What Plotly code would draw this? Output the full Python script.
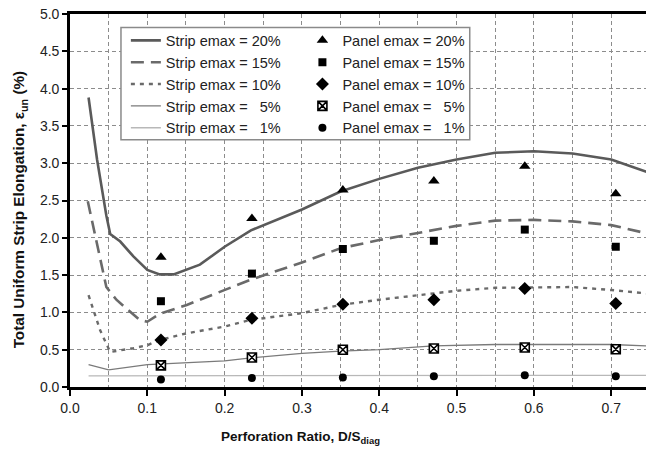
import plotly.graph_objects as go

# ---- data ----
x_s20 = [0.024, 0.035, 0.047, 0.052, 0.065, 0.082, 0.1, 0.116, 0.134, 0.151, 0.168, 0.2, 0.234,
         0.3, 0.35, 0.4, 0.45, 0.5, 0.55, 0.6, 0.65, 0.7, 0.75]
y_s20 = [3.88, 3.05, 2.3, 2.05, 1.95, 1.75, 1.57, 1.51, 1.51, 1.58, 1.64, 1.88, 2.1,
         2.38, 2.62, 2.79, 2.94, 3.05, 3.14, 3.16, 3.13, 3.05, 2.87]

x_s15 = [0.023, 0.035, 0.047, 0.06, 0.075, 0.09, 0.1, 0.116, 0.151, 0.2, 0.234, 0.3, 0.35,
         0.4, 0.45, 0.5, 0.55, 0.6, 0.65, 0.7, 0.75]
y_s15 = [2.49, 1.9, 1.34, 1.17, 1.03, 0.9, 0.875, 0.98, 1.10, 1.30, 1.44, 1.67, 1.86,
         1.97, 2.06, 2.16, 2.23, 2.24, 2.22, 2.17, 2.05]

x_s10 = [0.024, 0.039, 0.047, 0.052, 0.082, 0.1, 0.116, 0.151, 0.2, 0.234, 0.3, 0.35,
         0.4, 0.45, 0.5, 0.55, 0.6, 0.65, 0.7, 0.75]
y_s10 = [1.23, 0.76, 0.58, 0.47, 0.52, 0.56, 0.63, 0.72, 0.81, 0.90, 0.99, 1.10,
         1.17, 1.23, 1.29, 1.33, 1.34, 1.34, 1.30, 1.25]

x_s5 = [0.024, 0.05, 0.1, 0.15, 0.2, 0.234, 0.3, 0.35, 0.4, 0.47, 0.55, 0.6, 0.65, 0.7, 0.75]
y_s5 = [0.30, 0.23, 0.30, 0.32, 0.35, 0.39, 0.45, 0.48, 0.50, 0.55, 0.57, 0.57, 0.57, 0.57, 0.55]

x_s1 = [0.024, 0.1, 0.2, 0.3, 0.4, 0.5, 0.6, 0.7, 0.75]
y_s1 = [0.15, 0.15, 0.152, 0.154, 0.155, 0.156, 0.156, 0.156, 0.156]

x_panel = [0.1176, 0.2353, 0.3529, 0.4706, 0.5882, 0.7059]
y_p20 = [1.74, 2.26, 2.64, 2.76, 2.96, 2.59]
y_p15 = [1.15, 1.52, 1.85, 1.96, 2.11, 1.88]
y_p10 = [0.63, 0.92, 1.11, 1.17, 1.32, 1.12]
y_p5 = [0.29, 0.395, 0.50, 0.516, 0.53, 0.507]
y_p1 = [0.10, 0.12, 0.126, 0.144, 0.157, 0.144]

strip_names = ["Strip emax = 20%", "Strip emax = 15%", "Strip emax = 10%",
               "Strip emax = \u00a0\u00a05%", "Strip emax = \u00a0\u00a01%"]
panel_names = ["Panel emax = 20%", "Panel emax = 15%", "Panel emax = 10%",
               "Panel emax = \u00a0\u00a05%", "Panel emax = \u00a0\u00a01%"]
x_title = "<b>Perforation Ratio, D/S<sub>diag</sub></b>"
y_title = "<b>Total Uniform Strip Elongation, \u03b5<sub>un</sub> (%)</b>"

FONT = "Liberation Sans, Arial, sans-serif"

fig = go.Figure()

strip_data = [(x_s20, y_s20), (x_s15, y_s15), (x_s10, y_s10), (x_s5, y_s5), (x_s1, y_s1)]
strip_styles = [
    dict(color="#5a5a5a", width=2.6, dash="solid"),
    dict(color="#6a6a6a", width=2.6, dash="13px,7px"),
    dict(color="#6a6a6a", width=2.4, dash="4px,5px"),
    dict(color="#7a7a7a", width=1.3, dash="solid"),
    dict(color="#b8b8b8", width=1.3, dash="solid"),
]
for (xs, ys), st, nm in zip(strip_data, strip_styles, strip_names):
    fig.add_trace(go.Scatter(x=xs, y=ys, mode="lines", name=nm, line=st,
                             legend="legend"))

panel_data = [y_p20, y_p15, y_p10, y_p5, y_p1]
panel_markers = [
    dict(symbol="triangle-up", size=10, color="black"),
    dict(symbol="square", size=8, color="black"),
    dict(symbol="diamond", size=10, color="black"),
    dict(symbol="square-x", size=9, color="white", line=dict(color="black", width=1.6)),
    dict(symbol="circle", size=8, color="black"),
]
for ys, mk, nm in zip(panel_data, panel_markers, panel_names):
    fig.add_trace(go.Scatter(x=x_panel, y=ys, mode="markers", name=nm, marker=mk,
                             legend="legend2"))

# legend frame
fig.add_shape(type="rect", xref="paper", yref="paper", x0=0.0885, x1=0.694,
              y0=0.663, y1=0.9637, fillcolor="white",
              line=dict(color="#8a8a8a", width=1.5), layer="above")

# axis titles as annotations (offset as in the reference)
fig.add_annotation(text=x_title, xref="paper", yref="paper", x=0.401, y=-0.135,
                   xanchor="center", yanchor="middle", showarrow=False,
                   font=dict(family=FONT, size=13.5, color="#111"))
fig.add_annotation(text=y_title, xref="paper", yref="paper", x=-0.087, y=0.476,
                   xanchor="center", yanchor="middle", showarrow=False, textangle=-90,
                   font=dict(family=FONT, size=15.3, color="#111"))

fig.update_layout(
    width=646, height=449,
    margin=dict(l=70, r=0, t=14, b=62),
    paper_bgcolor="white", plot_bgcolor="white",
    font=dict(family=FONT, size=13, color="#222"),
    legend=dict(x=0.097, y=0.972, xanchor="left", yanchor="top",
                bgcolor="rgba(0,0,0,0)", borderwidth=0,
                font=dict(family=FONT, size=14.5, color="#222"),
                tracegroupgap=0),
    legend2=dict(x=0.4035, y=0.972, xanchor="left", yanchor="top",
                 bgcolor="rgba(0,0,0,0)", borderwidth=0,
                 font=dict(family=FONT, size=14.5, color="#222"),
                 tracegroupgap=0),
    showlegend=True,
)

fig.update_xaxes(
    range=[0, 0.745], tick0=0, dtick=0.1, tickformat=".1f",
    ticks="outside", ticklen=6, tickwidth=2, tickcolor="black",
    showline=True, linewidth=2.6, linecolor="black", mirror=True,
    showgrid=True, gridcolor="#8c8c8c", gridwidth=1, griddash="4px,3px",
    minor=dict(dtick=0.05, showgrid=True, gridcolor="#8c8c8c", gridwidth=1,
               griddash="4px,3px", ticks=""),
    zeroline=False,
    tickfont=dict(family=FONT, size=14, color="#222"),
)
fig.update_yaxes(
    range=[0, 5], tick0=0, dtick=0.5, tickformat=".1f",
    ticks="outside", ticklen=5, tickwidth=2, tickcolor="black",
    showline=True, linewidth=2.6, linecolor="black", mirror=False,
    showgrid=True, gridcolor="#8c8c8c", gridwidth=1, griddash="4px,3px",
    zeroline=False,
    tickfont=dict(family=FONT, size=14, color="#222"),
)

fig.write_html("out.html")
